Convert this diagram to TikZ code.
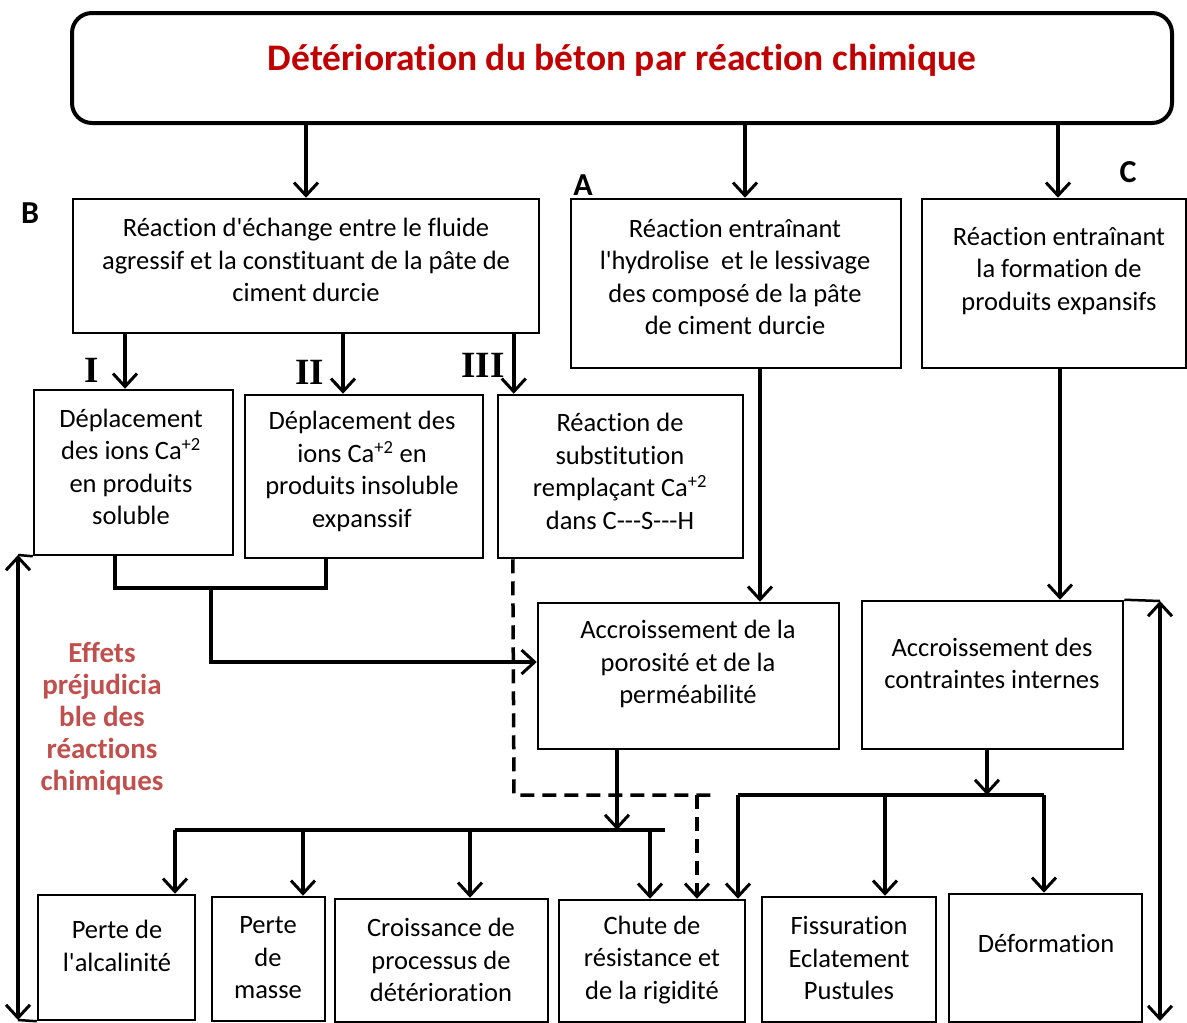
\documentclass[tikz,border=0pt]{standalone}
\usepackage{fontspec}
\setmainfont{Carlito}[Ligatures={TeXOff,CommonOff}]
\newfontfamily\romfont{Liberation Serif}
\usetikzlibrary{arrows.meta}
\definecolor{titred}{RGB}{192,0,0}
\definecolor{effred}{RGB}{192,80,77}
\tikzset{
  box/.style={draw, line width=2.5pt, rectangle, inner sep=0pt},
  txt/.style={align=center, font=\fontsize{26.5}{32.5}\selectfont, inner sep=0pt},
  arr/.style={line width=3.5pt, -{Straight Barb[length=13pt,width=24pt,line width=3pt]}},
  dblarr/.style={line width=3.5pt, {Straight Barb[length=13pt,width=24pt,line width=3pt]}-{Straight Barb[length=13pt,width=24pt,line width=3pt]}},
  ln/.style={line width=3.5pt},
  dsh/.style={line width=3.5pt, dash pattern=on 14pt off 8pt},
  lab/.style={font=\fontsize{32}{34}\selectfont\bfseries, inner sep=0pt},
  rlab/.style={font=\fontsize{37}{39}\selectfont\romfont\bfseries, inner sep=0pt},
}
\begin{document}
\begin{tikzpicture}[x=1pt,y=-1pt]
\useasboundingbox (0,0) rectangle (1187,1023);
% title
\node[draw, line width=4pt, rounded corners=20pt, minimum width=1100pt, minimum height=110pt] (title) at (622,68) {};
\node[inner sep=0pt, text=titred, font=\fontsize{37.5}{40}\selectfont\bfseries] (titletxt) at (622,60) {Détérioration du béton par réaction chimique};
% labels
\node[lab] (lB) at (30,213) {B};
\node[lab] (lA) at (583,185) {A};
\node[lab] (lC) at (1128,172) {C};
\node[rlab] (lI) at (92,370) {I};
\node[rlab] (lII) at (310,372) {II};
\node[rlab] (lIII) at (483,365) {III};
% second level
\node[box, minimum width=466pt, minimum height=134pt] (B) at (306,266) {};
\node[txt] (Bt) at (306,260) {Réaction d'échange entre le fluide\\agressif et la constituant de la pâte de\\ciment durcie};
\node[box, minimum width=330pt, minimum height=169pt] (A) at (736,283.5) {};
\node[txt] (At) at (735,277) {Réaction entraînant\\l'hydrolise\ \ et le lessivage\\des composé de la pâte\\de ciment durcie};
\node[box, minimum width=264pt, minimum height=169pt] (C) at (1054,283.5) {};
\node[txt] (Ct) at (1059,271) {Réaction entraînant\\la formation de\\produits expansifs};
% third level
\node[box, minimum width=199pt, minimum height=165pt] (I) at (133.5,472.5) {};
\node[txt] (It) at (131,467) {Déplacement\\des ions Ca\textsuperscript{+2}\\en produits\\soluble};
\node[box, minimum width=238pt, minimum height=163pt] (II) at (364,476.5) {};
\node[txt] (IIt) at (362,471.5) {Déplacement des\\ions Ca\textsuperscript{+2} en\\produits insoluble\\expanssif};
\node[box, minimum width=245pt, minimum height=163pt] (III) at (620.5,476.5) {};
\node[txt] (IIIt) at (620,471.5) {Réaction de\\substitution\\remplaçant Ca\textsuperscript{+2}\\dans C---S---H};
% fourth level
\node[box, minimum width=301pt, minimum height=146pt] (P) at (688.5,676) {};
\node[txt] (Pt) at (688,664) {Accroissement de la\\porosité et de la\\perméabilité};
\node[box, minimum width=261pt, minimum height=148pt] (K) at (992.5,675) {};
\node[txt] (Kt) at (992,663.5) {Accroissement des\\contraintes internes};
% red text
\node[txt, text=effred, font=\fontsize{29}{32}\selectfont\bfseries] (eff) at (102,719) {Effets\\préjudicia\\ble des\\réactions\\chimiques};
% bottom boxes
\node[box, minimum width=157pt, minimum height=125pt] (b1) at (116.5,957.5) {};
\node[txt] (b1t) at (117,946) {Perte de\\l'alcalinité};
\node[box, minimum width=113pt, minimum height=124pt] (b2) at (268.5,959) {};
\node[txt] (b2t) at (268,958) {Perte\\de\\masse};
\node[box, minimum width=213pt, minimum height=123pt] (b3) at (441.5,960.5) {};
\node[txt] (b3t) at (441,960) {Croissance de\\processus de\\détérioration};
\node[box, minimum width=186pt, minimum height=122pt] (b4) at (652,961) {};
\node[txt] (b4t) at (652,960) {Chute de\\résistance et\\de la rigidité};
\node[box, minimum width=174pt, minimum height=125pt] (b5) at (849,959.5) {};
\node[txt] (b5t) at (849,958) {Fissuration\\Eclatement\\Pustules};
\node[box, minimum width=193pt, minimum height=128pt] (b6) at (1045.5,958) {};
\node[txt] (b6t) at (1046,943) {Déformation};
% connectors from title
\draw[arr] (B.north |- title.south) -- (B.north);
\draw[arr] ([xshift=9pt]A.north |- title.south) -- ([xshift=9pt]A.north);
\draw[arr] ([xshift=4pt]C.north |- title.south) -- ([xshift=4pt]C.north);
% from B
\draw[arr] ([xshift=-8.5pt]I.north |- B.south) -- ([xshift=-8.5pt]I.north);
\draw[arr] ([xshift=-21pt]II.north |- B.south) -- ([xshift=-21pt]II.north);
\draw[arr] ([xshift=17pt]III.north west |- B.south) -- ([xshift=17pt]III.north west);
% I and II merge into P
\coordinate (j1) at (211,588);
\draw[ln] ([xshift=-18.5pt]I.south) |- (j1) -| ([xshift=-38pt]II.south);
\draw[arr] (j1) |- ([yshift=14pt]P.west);
% dashed from III
\coordinate (d1) at (514,795);
\coordinate (d2) at (712,795);
\coordinate (d3) at (697,795);
\draw[dsh] ([xshift=16pt]III.south west) -- (d1) -- (d2);
\draw[dsh, -{Straight Barb[length=13pt,width=24pt,line width=3pt]}] (d3) -- ([xshift=45pt]b4.north);
% A -> P, C -> K
\draw[arr] ([xshift=24pt]A.south) -- ([xshift=24pt]A.south |- P.north);
\draw[arr] ([xshift=6pt]C.south) -- ([xshift=6pt]C.south |- K.north);
% P -> bus
\coordinate (pb) at (617,830);
\coordinate (bl) at (175,830);
\coordinate (br) at (665,830);
\draw[arr] (pb |- P.south) -- (pb);
\draw[ln] (bl) -- (br);
\draw[arr] (bl) -- ([xshift=58.5pt]b1.north);
\draw[arr] ([xshift=34.5pt]b2.north |- bl) -- ([xshift=34.5pt]b2.north);
\draw[arr] ([xshift=28.5pt]b3.north |- bl) -- ([xshift=28.5pt]b3.north);
\draw[arr] ([xshift=-2pt]b4.north |- bl) -- ([xshift=-2pt]b4.north);
% K -> bus2
\coordinate (kb) at (987,795);
\coordinate (kl) at (738,795);
\coordinate (kr) at (1044,795);
\draw[arr] (kb |- K.south) -- (kb);
\draw[ln] (kl) -- (kr);
\draw[arr] (kl) -- ([xshift=86pt]b4.north);
\draw[arr] ([xshift=36pt]b5.north |- kl) -- ([xshift=36pt]b5.north);
\draw[arr] (kr) -- ([xshift=-1.5pt]b6.north);
% side double arrows
\coordinate (lt) at (18,555);
\coordinate (lb) at (18,1020);
\draw[line width=2.5pt] (I.south west) -- (lt);
\draw[line width=2.5pt] (b1.south west) -- (lb);
\draw[dblarr] (lt) -- (lb);
\coordinate (rt) at (1160,601);
\coordinate (rb) at (1160,1021);
\draw[line width=2.5pt] (K.north east) -- (rt);
\draw[dblarr] (rt) -- (rb);
\end{tikzpicture}
\end{document}
